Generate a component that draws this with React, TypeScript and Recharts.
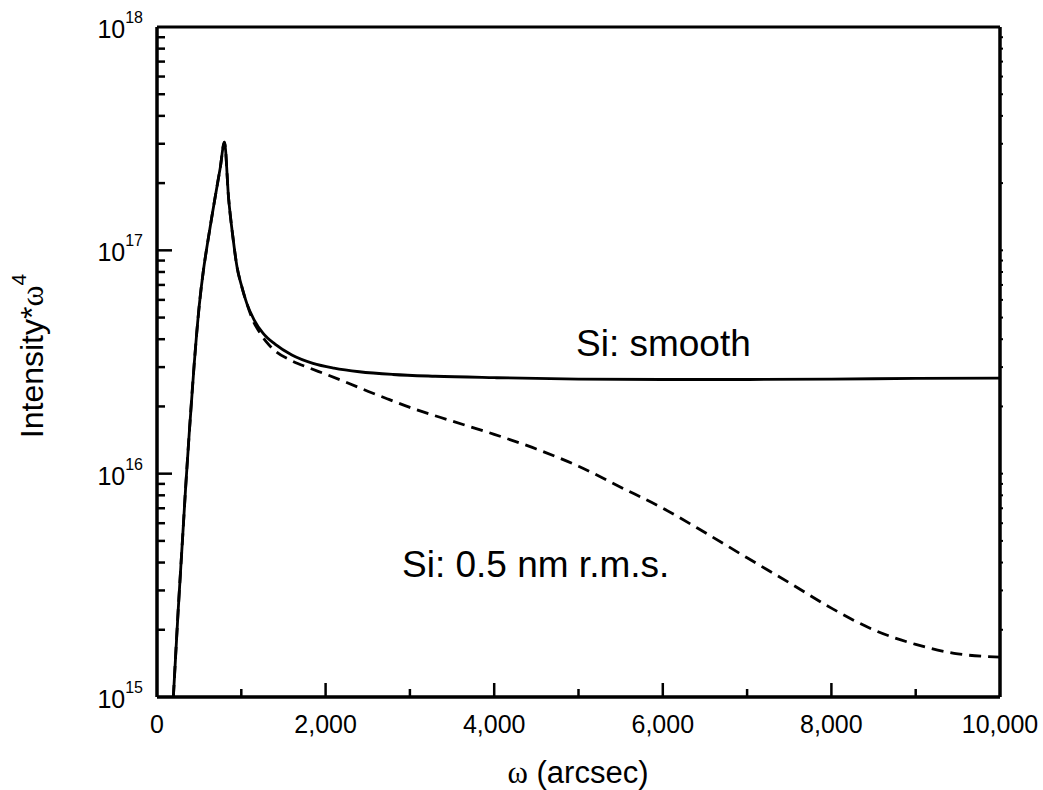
import React from "react";
import { LineChart, Line, XAxis, YAxis, ReferenceLine } from "recharts";

// omega (arcsec) vs intensity*omega^4
const smoothOmega = [194, 250, 300, 340, 382, 440, 502, 550, 600, 650, 700, 750, 800, 850, 900, 950, 1000, 1064, 1150, 1257, 1400, 1600, 1850, 2100, 2400, 2800, 3300, 4000, 5000, 6000, 7000, 8000, 9000, 10000];
const smoothIntensity = [1.0e15, 2.4e15, 4.9e15, 8.7e15, 1.51e16, 3.05e16, 5.7e16, 8.1e16, 1.08e17, 1.41e17, 1.82e17, 2.34e17, 3.05e17, 1.7e17, 1.15e17, 8.4e16, 7.0e16, 5.8e16, 4.9e16, 4.26e16, 3.8e16, 3.4e16, 3.12e16, 2.97e16, 2.86e16, 2.78e16, 2.73e16, 2.69e16, 2.65e16, 2.64e16, 2.64e16, 2.65e16, 2.67e16, 2.68e16];

const roughOmega = [194, 250, 300, 340, 382, 440, 502, 550, 600, 650, 700, 750, 800, 850, 900, 950, 1000, 1064, 1150, 1200, 1300, 1400, 1600, 1800, 2000, 2250, 2500, 2750, 3000, 3500, 4000, 4500, 5000, 5500, 6000, 6500, 7000, 7500, 8000, 8500, 9000, 9500, 10000];
const roughIntensity = [1.0e15, 2.4e15, 4.9e15, 8.7e15, 1.51e16, 3.05e16, 5.7e16, 8.1e16, 1.08e17, 1.41e17, 1.82e17, 2.34e17, 3.05e17, 1.7e17, 1.15e17, 8.4e16, 7.0e16, 5.8e16, 4.75e16, 4.4e16, 3.88e16, 3.55e16, 3.2e16, 2.98e16, 2.79e16, 2.56e16, 2.34e16, 2.15e16, 1.98e16, 1.72e16, 1.5e16, 1.29e16, 1.08e16, 8.7e15, 7.0e15, 5.45e15, 4.2e15, 3.25e15, 2.5e15, 2.0e15, 1.72e15, 1.56e15, 1.51e15];

const xTicks = [0, 1000, 2000, 3000, 4000, 5000, 6000, 7000, 8000, 9000, 10000];
const xLabeled = [0, 2000, 4000, 6000, 8000, 10000];
const yTicks = [
  1e15, 2e15, 3e15, 4e15, 5e15, 6e15, 7e15, 8e15, 9e15,
  1e16, 2e16, 3e16, 4e16, 5e16, 6e16, 7e16, 8e16, 9e16,
  1e17, 2e17, 3e17, 4e17, 5e17, 6e17, 7e17, 8e17, 9e17,
  1e18,
];
const yLabeled = [1e15, 1e16, 1e17, 1e18];

const smoothData = smoothOmega.map((x, i) => ({ x, y: smoothIntensity[i] }));
const roughData = roughOmega.map((x, i) => ({ x, y: roughIntensity[i] }));

const font = "'Liberation Sans', Arial, sans-serif";
const serif = "'Liberation Serif', 'DejaVu Serif', serif";

const XTick = ({ x, y, payload }: any) => {
  const v = payload.value;
  const major = xLabeled.includes(v);
  return (
    <g>
      {v > 0 && v < 10000 && (
        <line x1={x} y1={y} x2={x} y2={y - (major ? 14 : 8)} stroke="#000" strokeWidth={2.5} />
      )}
      {major && (
        <text x={x} y={y + 36} textAnchor="middle" fontSize={25} fontFamily={font} fill="#000">
          {v.toLocaleString("en-US")}
        </text>
      )}
    </g>
  );
};

const YTick = ({ x, y, payload }: any) => {
  const v = payload.value;
  const major = yLabeled.includes(v);
  const edge = v === 1e15 || v === 1e18;
  return (
    <g>
      {!edge && (
        <line x1={x} y1={y} x2={x + (major ? 15 : 8)} y2={y} stroke="#000" strokeWidth={2.5} />
      )}
      {major && (
        <text x={x - 14} y={y + 11} textAnchor="end" fontSize={25} fontFamily={font} fill="#000">
          10
          <tspan dy={-15} fontSize={16}>
            {Math.round(Math.log10(v))}
          </tspan>
        </text>
      )}
    </g>
  );
};

const RTick = ({ x, y, payload }: any) => {
  const v = payload.value;
  if (v === 1e15 || v === 1e18) return <g />;
  return <line x1={x} y1={y} x2={x + 3} y2={y} stroke="#000" strokeWidth={2} />;
};

export default function App() {
  return (
    <div style={{ position: "absolute", left: 0, top: 0, width: 1043, height: 790, background: "#fff" }}>
      <LineChart width={1043} height={790} data={smoothData} margin={{ top: 27, right: 42, bottom: 0, left: 0 }}>
        <XAxis
          dataKey="x"
          type="number"
          domain={[0, 10000]}
          ticks={xTicks}
          interval={0}
          height={93}
          tickSize={0}
          tickMargin={0}
          tickLine={false}
          tick={<XTick />}
          axisLine={{ stroke: "#000", strokeWidth: 3 }}
        />
        <YAxis
          scale="log"
          type="number"
          domain={[1e15, 1e18]}
          allowDataOverflow
          ticks={yTicks}
          interval={0}
          width={157}
          tickSize={0}
          tickMargin={0}
          tickLine={false}
          tick={<YTick />}
          axisLine={{ stroke: "#000", strokeWidth: 3 }}
        />
        <YAxis
          yAxisId="right"
          orientation="right"
          scale="log"
          type="number"
          domain={[1e15, 1e18]}
          allowDataOverflow
          ticks={yTicks}
          interval={0}
          width={1}
          tickSize={0}
          tickMargin={0}
          tickLine={false}
          tick={<RTick />}
          axisLine={{ stroke: "#000", strokeWidth: 3 }}
        />
        <ReferenceLine y={1e18} stroke="#000" strokeWidth={3} />
        <ReferenceLine y={1e15} stroke="#000" strokeWidth={3} />
        <ReferenceLine x={0} stroke="#000" strokeWidth={3} />
        <ReferenceLine x={10000} stroke="#000" strokeWidth={3} />
        <Line
          data={roughData}
          dataKey="y"
          type="monotone"
          stroke="#000"
          strokeWidth={2.8}
          strokeDasharray="12 7"
          dot={false}
          activeDot={false}
          isAnimationActive={false}
        />
        <Line
          data={smoothData}
          dataKey="y"
          type="monotone"
          stroke="#000"
          strokeWidth={2.8}
          dot={false}
          activeDot={false}
          isAnimationActive={false}
        />
      </LineChart>
      <svg width={1043} height={790} style={{ position: "absolute", left: 0, top: 0, pointerEvents: "none" }}>
        <text x={576} y={356} fontSize={37} fontFamily={font} fill="#000">
          Si: smooth
        </text>
        <text x={402} y={577} fontSize={37} fontFamily={font} fill="#000">
          Si: 0.5 nm r.m.s.
        </text>
        <text x={578} y={783} textAnchor="middle" fontSize={31} fontFamily={font} fill="#000">
          <tspan fontFamily={serif}>ω</tspan> (arcsec)
        </text>
        <text
          x={43}
          y={356}
          textAnchor="middle"
          fontSize={32}
          fontFamily={font}
          fill="#000"
          transform="rotate(-90 43 356)"
        >
          Intensity*<tspan fontFamily={serif}>ω</tspan>
          <tspan dy={-17} fontSize={21}>4</tspan>
        </text>
      </svg>
    </div>
  );
}
